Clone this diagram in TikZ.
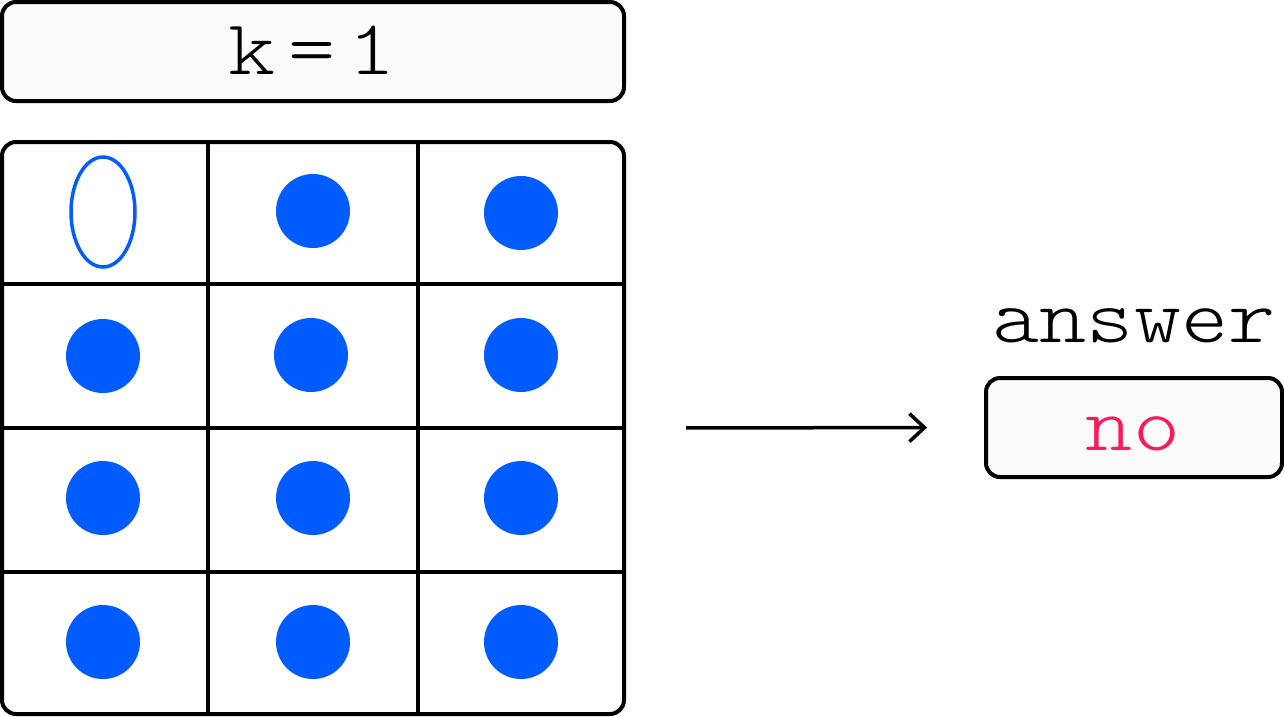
\documentclass[tikz,border=0pt]{standalone}
\usepackage{fontspec}
\newfontfamily\monolt[Extension=.otf, FakeStretch=1.15]{lmmonolt10-regular}
\usetikzlibrary{arrows.meta,shapes.geometric}
\definecolor{dotblue}{HTML}{005CFF}
\definecolor{noRed}{HTML}{FF1A5B}
\definecolor{boxfill}{HTML}{FBFBFB}
\tikzset{
  mono/.style={font=\monolt\fontsize{78}{90}\selectfont},
  framebox/.style={draw=black, line width=4pt, rounded corners=14pt, inner sep=0pt},
  gridline/.style={draw=black, line width=4pt},
  dot/.style={circle, fill=dotblue, minimum size=74pt, inner sep=0pt},
  hollow/.style={ellipse, draw=dotblue, line width=3.5pt, minimum width=64pt, minimum height=110pt, inner sep=0pt},
  conn/.style={draw=black, line width=3.5pt, -{Straight Barb[length=15pt,width=28pt,line width=3.5pt]}}
}
\begin{document}
\begin{tikzpicture}[x=1pt,y=-1pt]
\useasboundingbox (0,0) rectangle (1284,716);
% top box
\node[framebox, fill=boxfill, minimum width=622pt, minimum height=99pt] (kbox) at (313,51.5) {};
\node[mono, anchor=base] (klab) at (312,74) {\fontdimen2\font=13pt k = 1};
% grid
\node[framebox, fill=white, minimum width=622pt, minimum height=572pt] (grid) at (313,428) {};
\coordinate (v1t) at (208,142); \coordinate (v1b) at (208,714);
\coordinate (v2t) at (418,142); \coordinate (v2b) at (418,714);
\coordinate (h1l) at (2,284); \coordinate (h1r) at (624,284);
\coordinate (h2l) at (2,428); \coordinate (h2r) at (624,428);
\coordinate (h3l) at (2,572); \coordinate (h3r) at (624,572);
\draw[gridline] (v1t) -- (v1b);
\draw[gridline] (v2t) -- (v2b);
\draw[gridline] (h1l) -- (h1r);
\draw[gridline] (h2l) -- (h2r);
\draw[gridline] (h3l) -- (h3r);
% cells
\node[hollow] (c11) at (103,212) {};
\node[dot] (c12) at (313,211) {};
\node[dot] (c13) at (521,213) {};
\node[dot] (c21) at (103,356) {};
\node[dot] (c22) at (311,355) {};
\node[dot] (c23) at (521,355) {};
\node[dot] (c31) at (103,498) {};
\node[dot] (c32) at (313,498) {};
\node[dot] (c33) at (521,498) {};
\node[dot] (c41) at (103,642) {};
\node[dot] (c42) at (313,642) {};
\node[dot] (c43) at (521,642) {};
% answer
\node[framebox, fill=boxfill, minimum width=296pt, minimum height=99pt] (ansbox) at (1134,427.5) {};
\node[mono, anchor=base] (anslab) at (1134,342) {answer};
\node[mono, anchor=base, text=noRed] (nolab) at (1133,450) {no};
% arrow
\draw[conn, shorten <=60pt, shorten >=57pt] (grid.east) -- (ansbox.west);
\end{tikzpicture}
\end{document}
